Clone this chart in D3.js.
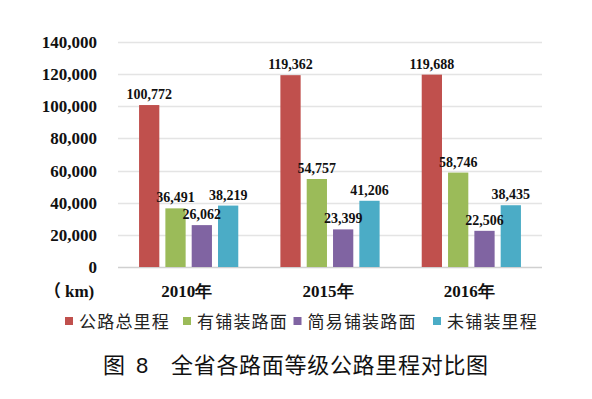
<!DOCTYPE html>
<html>
<head>
<meta charset="utf-8">
<script src="https://cdn.jsdelivr.net/npm/d3@7"></script>
<style>
  body { margin: 0; background: #fff; }
  svg { display: block; }
</style>
</head>
<body>
<div id="chart"></div>
<script>
var years = ["2010年", "2015年", "2016年"];
var seriesNames = ["公路总里程", "有铺装路面", "简易铺装路面", "未铺装里程"];
var totalKm = [100772, 119362, 119688];
var pavedKm = [36491, 54757, 58746];
var simplePavedKm = [26062, 23399, 22506];
var unpavedKm = [38219, 41206, 38435];
var yTicks = [0, 20000, 40000, 60000, 80000, 100000, 120000, 140000];

var colors = ["#C0504D", "#9BBB59", "#8064A2", "#4BACC6"];
var seriesValues = [totalKm, pavedKm, simplePavedKm, unpavedKm];

var width = 592, height = 399;
var plotLeft = 118, plotRight = 542, plotTop = 42, plotBottom = 267;
var serif = "'Liberation Serif', 'Times New Roman', serif";
var cjk = "'Noto Sans CJK SC', 'Noto Sans', sans-serif";

var svg = d3.select("#chart").append("svg")
    .attr("width", width)
    .attr("height", height);

var x0 = d3.scaleBand().domain(years).range([plotLeft, plotRight]).paddingInner(0).paddingOuter(0);
var x1 = d3.scaleBand().domain(seriesNames).range([0, x0.bandwidth()])
    .paddingInner(0.23).paddingOuter(0.8);
var y = d3.scaleLinear().domain([0, 140000]).range([plotBottom, plotTop]);

// gridlines
svg.append("g")
    .selectAll("line")
    .data(yTicks)
    .enter()
    .append("line")
    .attr("x1", plotLeft)
    .attr("x2", plotRight)
    .attr("y1", d => Math.round(y(d)) + 0.5)
    .attr("y2", d => Math.round(y(d)) + 0.5)
    .attr("stroke", d => d === 0 ? "#d0d0d0" : "#e4e4e4")
    .attr("stroke-width", 1.5);

// y tick labels
svg.append("g")
    .selectAll("text")
    .data(yTicks)
    .enter()
    .append("text")
    .attr("x", 97)
    .attr("y", d => y(d) + 6)
    .attr("text-anchor", "end")
    .attr("font-family", serif)
    .attr("font-weight", "bold")
    .attr("font-size", 17)
    .attr("fill", "#111")
    .text(d => d3.format(",")(d));

var barData = [];
years.forEach(function(yr, i) {
    seriesNames.forEach(function(s, j) {
        barData.push({ year: yr, series: s, value: seriesValues[j][i], color: colors[j] });
    });
});

var bars = svg.append("g");
bars.selectAll("rect")
    .data(barData)
    .enter()
    .append("rect")
    .attr("x", d => x0(d.year) + x1(d.series))
    .attr("width", x1.bandwidth())
    .attr("y", d => y(d.value))
    .attr("height", d => plotBottom - y(d.value))
    .attr("fill", d => d.color);

bars.selectAll("text")
    .data(barData)
    .enter()
    .append("text")
    .attr("x", d => x0(d.year) + x1(d.series) + x1.bandwidth() / 2)
    .attr("y", d => y(d.value) - 6)
    .attr("text-anchor", "middle")
    .attr("font-family", serif)
    .attr("font-weight", "bold")
    .attr("font-size", 14)
    .attr("fill", "#111")
    .text(d => d3.format(",")(d.value));

// x labels
svg.append("g")
    .selectAll("text")
    .data(years)
    .enter()
    .append("text")
    .attr("x", d => x0(d) + x0.bandwidth() / 2 - 2)
    .attr("y", 297)
    .attr("text-anchor", "middle")
    .attr("font-family", serif)
    .attr("font-weight", "bold")
    .attr("font-size", 17)
    .attr("fill", "#111")
    .text(d => d);

// unit label: full-width paren sits at right of its em box
svg.append("text")
    .attr("x", 44)
    .attr("y", 297)
    .attr("font-family", cjk)
    .attr("font-weight", "bold")
    .attr("font-size", 17)
    .attr("fill", "#111")
    .text("（");
svg.append("text")
    .attr("x", 65)
    .attr("y", 297)
    .attr("font-family", serif)
    .attr("font-weight", "bold")
    .attr("font-size", 17)
    .attr("fill", "#111")
    .text("km)");

// legend
var legendX = [65, 183, 293.5, 433];
var legend = svg.append("g");
seriesNames.forEach(function(s, j) {
    legend.append("rect")
        .attr("x", legendX[j])
        .attr("y", 317)
        .attr("width", 8)
        .attr("height", 8)
        .attr("fill", colors[j]);
    legend.append("text")
        .attr("x", legendX[j] + 14)
        .attr("y", 327.5)
        .attr("font-family", cjk)
        .attr("font-size", 17)
        .attr("letter-spacing", 1.2)
        .attr("fill", "#222")
        .text(s);
});

// caption
var caption = svg.append("text")
    .attr("y", 372.5)
    .attr("font-family", cjk)
    .attr("font-size", 22)
    .attr("fill", "#111");
caption.append("tspan").attr("x", 103).text("图");
caption.append("tspan").attr("x", 136).attr("font-family", "'Liberation Sans', Arial, sans-serif").text("8");
caption.append("tspan").attr("x", 171).attr("letter-spacing", 0.7).text("全省各路面等级公路里程对比图");
</script>
</body>
</html>
